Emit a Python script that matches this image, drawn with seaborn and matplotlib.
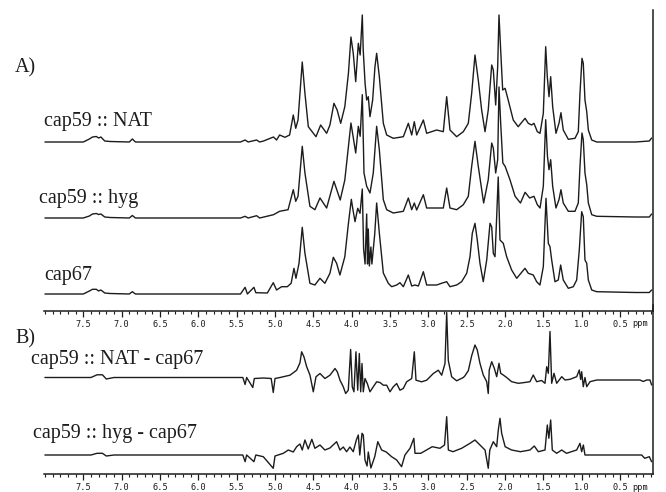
import matplotlib
matplotlib.use("Agg")
import numpy as np
import pandas as pd
import seaborn as sns
import matplotlib.pyplot as plt
from matplotlib.ticker import FixedLocator, MultipleLocator

# (ppm, intensity above own baseline)
nat = [(8.00, 0), (7.50, 0), (7.42, 3), (7.38, 5), (7.33, 5.5), (7.30, 4), (7.27, 5), (7.22, 1), (7.15, 0.5), (6.90, 0),
       (6.86, 3), (6.82, 0), (6.00, 0), (5.45, 0), (5.39, 2), (5.35, 0), (5.24, 2), (5.20, 0), (5.15, 1), (5.02, 5),
       (4.98, 2), (4.94, 7), (4.87, 4.7), (4.81, 7), (4.762, 27), (4.73, 13.7), (4.70, 22), (4.645, 80), (4.61, 48.7), (4.566, 15.3),
       (4.466, 5.3), (4.405, 17), (4.327, 8.7), (4.284, 17), (4.232, 38.7), (4.19, 32), (4.144, 18.7), (4.09, 35.3), (4.043, 68.7), (4.01, 105),
       (3.98, 88.7), (3.948, 60.3), (3.914, 98.7), (3.89, 87), (3.862, 127), (3.85, 92), (3.826, 58.7), (3.805, 42), (3.784, 45.3), (3.762, 25.3),
       (3.727, 42), (3.697, 75.3), (3.675, 88.7), (3.64, 65.3), (3.588, 18.7), (3.544, 7), (3.458, 3.7), (3.327, 5.3), (3.262, 18.7), (3.218, 7),
       (3.184, 20.3), (3.153, 7), (3.066, 22), (3.023, 8.7), (2.892, 12), (2.806, 10.3), (2.762, 45.3), (2.719, 12), (2.632, 5.3), (2.545, 10.3),
       (2.48, 18.7), (2.436, 48.7), (2.393, 87), (2.35, 62), (2.306, 32), (2.262, 10.3), (2.22, 32), (2.175, 77), (2.154, 72), (2.123, 37),
       (2.097, 75.3), (2.08, 127), (2.058, 92), (2.032, 52), (2.0, 53.7), (1.96, 42), (1.894, 22), (1.83, 15.3), (1.74, 23.7), (1.698, 18.7),
       (1.654, 17), (1.624, 18.7), (1.58, 10.3), (1.545, 8.7), (1.502, 28.7), (1.471, 95.3), (1.45, 65.3), (1.428, 45.3), (1.406, 65.3), (1.38, 35.3),
       (1.337, 8.7), (1.298, 18.7), (1.272, 29.3), (1.242, 12), (1.176, 2.7), (1.089, 3.7), (1.046, 10.3), (1.024, 48.7), (0.998, 83.7), (0.981, 78.7),
       (0.959, 42), (0.936, 30.3), (0.915, 12), (0.871, 2), (0.806, 0), (0.30, 0), (0.12, 1), (0.09, 4)]

hyg = [(8.00, 0), (7.50, 0), (7.42, 2), (7.38, 4), (7.33, 4.5), (7.30, 3.5), (7.27, 4), (7.22, 1), (7.15, 0.5), (6.90, 0),
       (6.86, 2.5), (6.82, 0), (6.00, 0), (5.45, 0), (5.39, 1.7), (5.35, 0), (5.24, 2.3), (5.20, 0), (5.02, 3.3), (4.94, 6.7),
       (4.83, 8.3), (4.762, 28.3), (4.73, 16.7), (4.70, 21.7), (4.645, 71.7), (4.61, 45), (4.545, 11.7), (4.48, 8.3), (4.414, 20), (4.327, 10),
       (4.232, 36.7), (4.15, 18), (4.09, 38), (4.01, 95), (3.948, 65), (3.914, 91.7), (3.89, 81.7), (3.862, 123.3), (3.84, 45), (3.805, 31.7),
       (3.762, 25), (3.719, 45), (3.675, 91.7), (3.64, 68.3), (3.588, 18.3), (3.544, 8.3), (3.458, 5), (3.327, 6.7), (3.262, 20), (3.218, 8.3),
       (3.184, 15), (3.153, 8), (3.066, 23.3), (3.023, 10), (2.892, 10), (2.806, 10), (2.762, 30), (2.719, 10), (2.632, 8.3), (2.545, 13.3),
       (2.48, 21.7), (2.436, 51.7), (2.393, 76.7), (2.35, 51.7), (2.28, 15), (2.22, 38.3), (2.175, 75), (2.154, 70), (2.123, 45), (2.097, 58.3),
       (2.08, 131), (2.058, 95), (2.03, 55), (2.0, 51.7), (1.937, 38.3), (1.87, 21.7), (1.80, 15), (1.74, 25.7), (1.68, 20), (1.624, 21.7),
       (1.58, 13.3), (1.545, 10), (1.502, 31.7), (1.471, 98.3), (1.448, 61.7), (1.428, 48.3), (1.406, 58.3), (1.38, 31.7), (1.337, 10), (1.298, 18.3),
       (1.272, 28.3), (1.242, 15), (1.176, 6.7), (1.089, 6.7), (1.046, 15), (1.024, 51.7), (0.998, 85), (0.981, 78.3), (0.959, 45), (0.936, 33.3),
       (0.915, 15), (0.871, 3.3), (0.806, 1.7), (0.30, 1), (0.12, 1), (0.09, 4)]

cap67 = [(8.00, 0), (7.50, 0), (7.42, 3), (7.38, 4.7), (7.33, 4.7), (7.30, 3), (7.27, 4), (7.22, 1), (7.15, 0.5), (6.90, 0),
         (6.86, 2.3), (6.82, 0), (6.00, 0), (5.45, 0), (5.39, 6.7), (5.36, 0), (5.275, 6.7), (5.25, 1.3), (5.10, 1), (5.023, 11.3),
         (4.98, 4), (4.914, 7.3), (4.84, 7.3), (4.79, 10.7), (4.753, 25.7), (4.727, 15.7), (4.687, 30.7), (4.645, 66.7), (4.61, 40.7), (4.545, 10.7),
         (4.48, 9), (4.414, 15.7), (4.35, 10.7), (4.284, 20.7), (4.24, 36.7), (4.197, 30.7), (4.154, 19), (4.09, 37.3), (4.043, 70.7), (4.005, 94.7),
         (3.987, 85.7), (3.957, 72.3), (3.922, 85.7), (3.892, 80.7), (3.862, 105), (3.845, 45), (3.826, 30), (3.805, 80), (3.794, 30), (3.784, 65),
         (3.77, 28), (3.75, 47), (3.737, 30), (3.70, 60), (3.675, 91), (3.64, 61), (3.588, 21), (3.523, 10.7), (3.479, 7.3), (3.414, 9),
         (3.371, 11.3), (3.327, 7.3), (3.262, 19), (3.218, 8), (3.175, 9), (3.131, 8), (3.066, 22.3), (3.023, 9), (2.892, 9), (2.83, 10.7),
         (2.762, 12.3), (2.719, 7.3), (2.632, 9), (2.567, 12.3), (2.501, 20.7), (2.458, 37.3), (2.428, 60.7), (2.393, 70.7), (2.363, 54), (2.328, 30.7),
         (2.285, 12.3), (2.24, 34), (2.197, 70.7), (2.175, 67), (2.154, 40.7), (2.132, 37.3), (2.11, 77.3), (2.09, 117), (2.067, 54), (2.024, 50.7),
         (1.98, 37.3), (1.915, 24), (1.849, 15.7), (1.741, 25.7), (1.698, 20.7), (1.633, 19), (1.589, 12.3), (1.546, 9), (1.502, 27.3), (1.467, 95.7),
         (1.437, 50.7), (1.415, 47.3), (1.393, 34), (1.35, 12.3), (1.307, 14), (1.276, 29), (1.242, 14), (1.176, 5.7), (1.111, 7.3), (1.067, 14),
         (1.033, 44), (1.002, 82.3), (0.981, 77.3), (0.959, 34), (0.936, 30.7), (0.915, 14), (0.871, 4), (0.806, 2.3), (0.30, 1.5), (0.12, 1.5),
         (0.09, 4)]

nat_minus_cap67 = [(8.00, 0), (7.40, 0), (7.32, 2.7), (7.25, 2.7), (7.20, -1.5), (7.10, 0), (6.00, 0), (5.42, 0), (5.39, -7), (5.37, 0),
                   (5.29, -10), (5.27, -1), (5.15, -0.5), (5.05, -1), (5.023, -15), (5.00, -1), (4.935, 0), (4.805, 2.3), (4.718, 7.3), (4.675, 14.7),
                   (4.653, 25.7), (4.623, 20.7), (4.587, 10.7), (4.544, 2.3), (4.501, -14.3), (4.466, 0.7), (4.414, 4), (4.349, -1), (4.284, 2.3), (4.218, 9),
                   (4.188, 5.7), (4.153, -2.7), (4.11, -9.3), (4.079, -16), (4.045, -12.7), (4.014, 28), (3.993, -9.3), (3.971, -14.3), (3.945, 25.7), (3.922, -12.7),
                   (3.901, 24), (3.883, -14.3), (3.866, 14), (3.849, -14.3), (3.827, -1), (3.797, -6), (3.762, -14.3), (3.719, -9.3), (3.675, -4.3), (3.632, -5),
                   (3.588, -7.7), (3.544, -7.7), (3.501, -14.3), (3.458, -9.3), (3.414, -6), (3.371, -12.7), (3.328, -11), (3.284, -4.3), (3.218, -1), (3.184, 25.7),
                   (3.162, -2.7), (3.088, -4.3), (3.023, -2.7), (2.936, 4), (2.871, 7.3), (2.827, 2.3), (2.784, 14), (2.762, 65), (2.741, 17), (2.697, 0.7),
                   (2.632, -3.3), (2.545, 0), (2.523, 1.8), (2.48, 6.8), (2.436, 21.8), (2.393, 32.5), (2.363, 27.5), (2.328, 14.2), (2.285, 2.5), (2.24, -4.2),
                   (2.22, -16), (2.207, 7.5), (2.175, 15.8), (2.141, 9.2), (2.11, 0.8), (2.08, 14.2), (2.058, 4.2), (2.024, 2.5), (1.98, 0), (1.915, -4.2),
                   (1.828, -5.8), (1.763, -5.2), (1.676, -4.2), (1.633, 2.5), (1.589, -4.2), (1.524, -3), (1.48, -5.8), (1.458, 10.8), (1.437, 4.2), (1.415, 46),
                   (1.393, -5.8), (1.363, 4.2), (1.328, -5.8), (1.262, 0.8), (1.219, -2.5), (1.154, -1.8), (1.067, 0.8), (1.033, 7.5), (1.015, -2), (1.002, 5.8),
                   (0.981, -9.2), (0.959, 0), (0.936, -9.2), (0.893, -4.2), (0.806, -2.5), (0.242, -2.5), (0.199, -4), (0.155, -2.5), (0.111, -2.5), (0.09, -7.5)]

hyg_minus_cap67 = [(8.00, 0), (7.40, 0), (7.32, 1.7), (7.25, 1.7), (7.20, -1), (7.10, 0), (6.00, 0), (5.42, 0), (5.39, -6.7), (5.37, 0),
                   (5.275, -6.7), (5.25, 0), (5.153, -1.7), (5.023, -13.3), (5.00, -1), (4.892, 1.7), (4.827, 5), (4.762, 3), (4.718, 8.3), (4.675, 11),
                   (4.645, 5), (4.61, 15), (4.567, 6), (4.52, 15.7), (4.48, 6.7), (4.414, 10), (4.35, 5), (4.284, 7), (4.197, 13.3), (4.153, 5),
                   (4.11, 8), (4.067, 3.3), (4.024, 8), (3.98, 3.3), (3.94, 15), (3.914, 20), (3.895, 0), (3.866, 21.7), (3.849, 20), (3.827, -5),
                   (3.80, -11), (3.784, 3), (3.75, -13), (3.70, -1.7), (3.66, 13.3), (3.61, 5), (3.55, 3), (3.48, -1.7), (3.414, -5), (3.35, -11.7),
                   (3.306, 0), (3.24, 6.7), (3.19, 16.7), (3.175, 1.7), (3.10, 1.7), (2.95, 8.3), (2.85, 6.7), (2.79, 10), (2.762, 38.3), (2.74, 5),
                   (2.68, 3.3), (2.567, 6.7), (2.458, 11.7), (2.393, 15), (2.328, 10), (2.262, 5), (2.22, -13.3), (2.20, 5), (2.154, 13.3), (2.11, 8.3),
                   (2.089, 25), (2.067, 36.7), (2.045, 21.7), (2.00, 8.3), (1.915, 5), (1.80, 3.3), (1.676, 5), (1.62, 9), (1.567, 3.3), (1.48, 5),
                   (1.45, 30), (1.43, 16.7), (1.406, 35), (1.385, 5), (1.328, 1.7), (1.262, 5), (1.20, 1.7), (1.067, 5), (1.024, 11.7), (1.002, 3.3),
                   (0.98, 10), (0.959, 0), (0.85, 0), (0.22, 0), (0.18, -3.3), (0.12, -1.7), (0.09, -6.7)]

major_ticks = [7.5, 7.0, 6.5, 6.0, 5.5, 5.0, 4.5, 4.0, 3.5, 3.0, 2.5, 2.0, 1.5, 1.0, 0.5]
tick_labels = ["7.5", "7.0", "6.5", "6.0", "5.5", "5.0", "4.5", "4.0", "3.5", "3.0",
               "2.5", "2.0", "1.5", "1.0", "0.5"]

sns.set_style("ticks")
plt.rcParams["font.family"] = ["Liberation Serif", "DejaVu Serif"]

W, H = 666, 492
fig = plt.figure(figsize=(W / 100, H / 100), dpi=100)
ink = "#1c1c1c"


def px_axes(left, top, right, bottom):
    return fig.add_axes([left / W, 1 - bottom / H, (right - left) / W, (bottom - top) / H])


def style_axis(ax, ymax, label_y):
    ax.set_xlim(8.012, 0.072)
    ax.set_ylim(0, ymax)
    ax.patch.set_alpha(0)
    for side in ["top", "left"]:
        ax.spines[side].set_visible(False)
    for side in ["bottom", "right"]:
        ax.spines[side].set_color(ink)
        ax.spines[side].set_linewidth(1.1)
    ax.set_yticks([])
    ax.xaxis.set_major_locator(FixedLocator(major_ticks))
    ax.set_xticklabels(tick_labels, family="DejaVu Sans Mono", fontsize=6.2, color=ink)
    ax.xaxis.set_minor_locator(MultipleLocator(0.1))
    ax.tick_params(axis="x", which="major", direction="out", length=4.5, width=0.9, pad=1.8, color=ink)
    ax.tick_params(axis="x", which="minor", direction="out", length=2.3, width=0.8, color=ink)
    ax.set_xlabel("")
    ax.set_ylabel("")
    fig.text(640 / W, 1 - label_y / H, "ppm", family="DejaVu Sans Mono", fontsize=6.2,
             color=ink, ha="center", va="center")


def draw(ax, trace, offset):
    df = pd.DataFrame(trace, columns=["ppm", "h"])
    df["y"] = df["h"] + offset
    sns.lineplot(data=df, x="ppm", y="y", ax=ax, color=ink, linewidth=1.0,
                 estimator=None, sort=False)


axA = px_axes(44, 10, 653, 311)
draw(axA, nat, 169)
draw(axA, hyg, 93)
draw(axA, cap67, 17)
style_axis(axA, 301, 323)

axB = px_axes(44, 305, 653, 474)
draw(axB, nat_minus_cap67, 96.5)
draw(axB, hyg_minus_cap67, 19)
style_axis(axB, 169, 487)

labels = [("A)", 15, 72), ("cap59 :: NAT", 44, 126), ("cap59 :: hyg", 39, 203),
          ("cap67", 44, 280), ("B)", 15, 343), ("cap59 :: NAT - cap67", 31, 364),
          ("cap59 :: hyg - cap67", 33, 438)]
for text, x, y in labels:
    fig.text(x / W, 1 - y / H, text, fontsize=14.5, color=ink, ha="left", va="baseline")

fig.savefig("out.png", dpi=100)
